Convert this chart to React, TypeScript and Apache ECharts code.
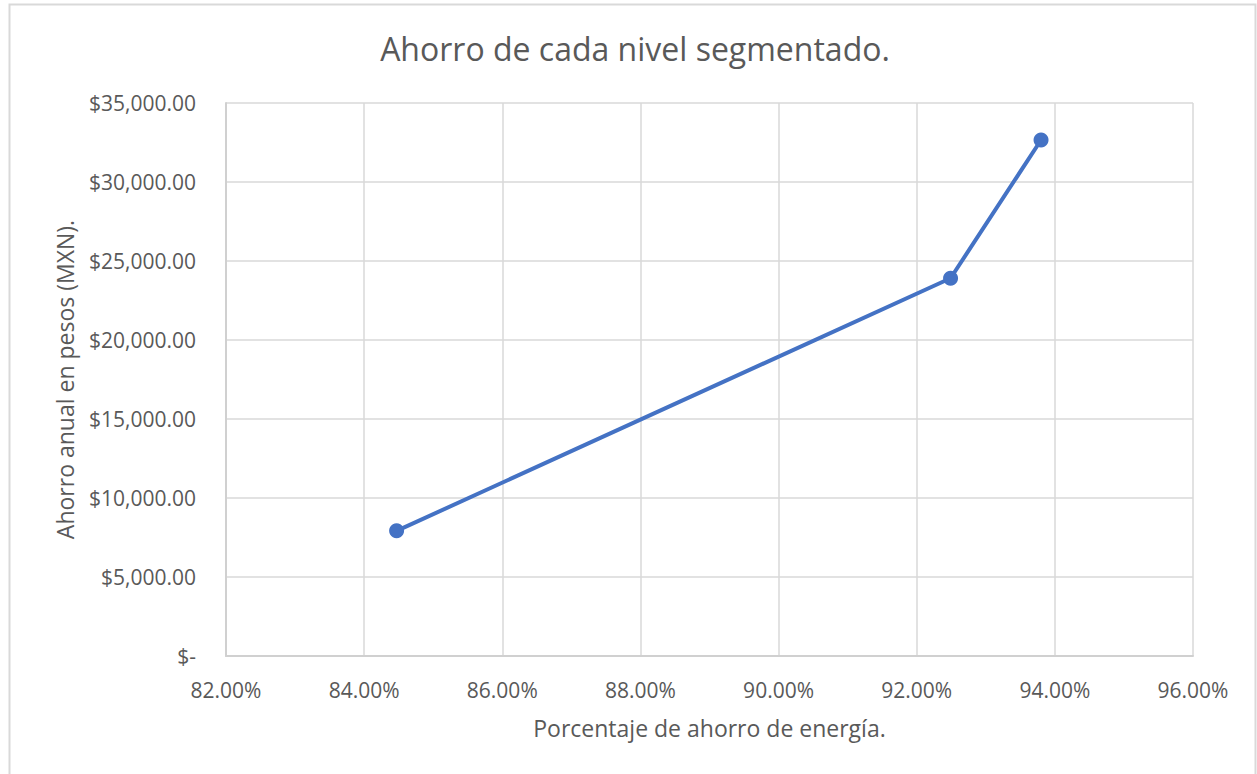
import React, { useEffect, useRef } from "react";
import * as echarts from "echarts";

const titleText = "Ahorro de cada nivel segmentado.";
const xAxisName = "Porcentaje de ahorro de energía.";
const yAxisName = "Ahorro anual en pesos (MXN).";
const savingsPercent = [84.47, 92.49, 93.8];
const annualSavings = [7920, 23910, 32660];

const fontFamily = "'Open Sans', 'Noto Sans', sans-serif";
const textColor = "#595959";

export default function App() {
  const ref = useRef<HTMLDivElement>(null);
  useEffect(() => {
    document.body.style.margin = "0";
    const chart = echarts.init(ref.current!, undefined, { renderer: "svg" });
    chart.setOption({
      animation: false,
      backgroundColor: "#ffffff",
      title: {
        text: titleText,
        left: 630,
        top: 27,
        textAlign: "center",
        textStyle: { fontFamily, fontSize: 32, fontWeight: "normal", color: textColor },
      },
      graphic: [
        {
          type: "rect",
          shape: { x: 9.5, y: 4.5, width: 1246, height: 800 },
          style: { fill: "none", stroke: "#d9d9d9", lineWidth: 2 },
          silent: true,
        },
      ],
      grid: { left: 226, top: 103, right: 64, bottom: 118 },
      xAxis: {
        type: "value",
        min: 82,
        max: 96,
        interval: 2,
        name: xAxisName,
        nameLocation: "middle",
        nameGap: 60,
        nameTextStyle: { fontFamily, fontSize: 23, color: textColor },
        axisLine: { show: true, lineStyle: { color: "#d0d0d0", width: 2 } },
        axisTick: { show: false },
        axisLabel: {
          fontFamily,
          fontSize: 21,
          color: textColor,
          margin: 23,
          formatter: (v: number) => v.toFixed(2) + "%",
        },
        splitLine: { show: true, lineStyle: { color: "#d9d9d9", width: 1.5 } },
      },
      yAxis: {
        type: "value",
        min: 0,
        max: 35000,
        interval: 5000,
        name: yAxisName,
        nameLocation: "middle",
        nameGap: 150,
        nameRotate: 90,
        nameTextStyle: { fontFamily, fontSize: 23, color: textColor },
        axisLine: { show: true, lineStyle: { color: "#d0d0d0", width: 2 } },
        axisTick: { show: false },
        axisLabel: {
          fontFamily,
          fontSize: 21,
          color: textColor,
          margin: 30,
          formatter: (v: number) =>
            v === 0
              ? "$-"
              : "$" + v.toLocaleString("en-US", { minimumFractionDigits: 2, maximumFractionDigits: 2 }),
        },
        splitLine: { show: true, lineStyle: { color: "#d9d9d9", width: 1.5 } },
      },
      series: [
        {
          type: "line",
          data: savingsPercent.map((x, i) => [x, annualSavings[i]]),
          symbol: "circle",
          symbolSize: 15,
          lineStyle: { color: "#4472C4", width: 4 },
          itemStyle: { color: "#4472C4" },
        },
      ],
    });
    return () => chart.dispose();
  }, []);
  return (
    <div
      ref={ref}
      style={{ position: "absolute", left: 0, top: 0, width: 1257, height: 774 }}
    />
  );
}
